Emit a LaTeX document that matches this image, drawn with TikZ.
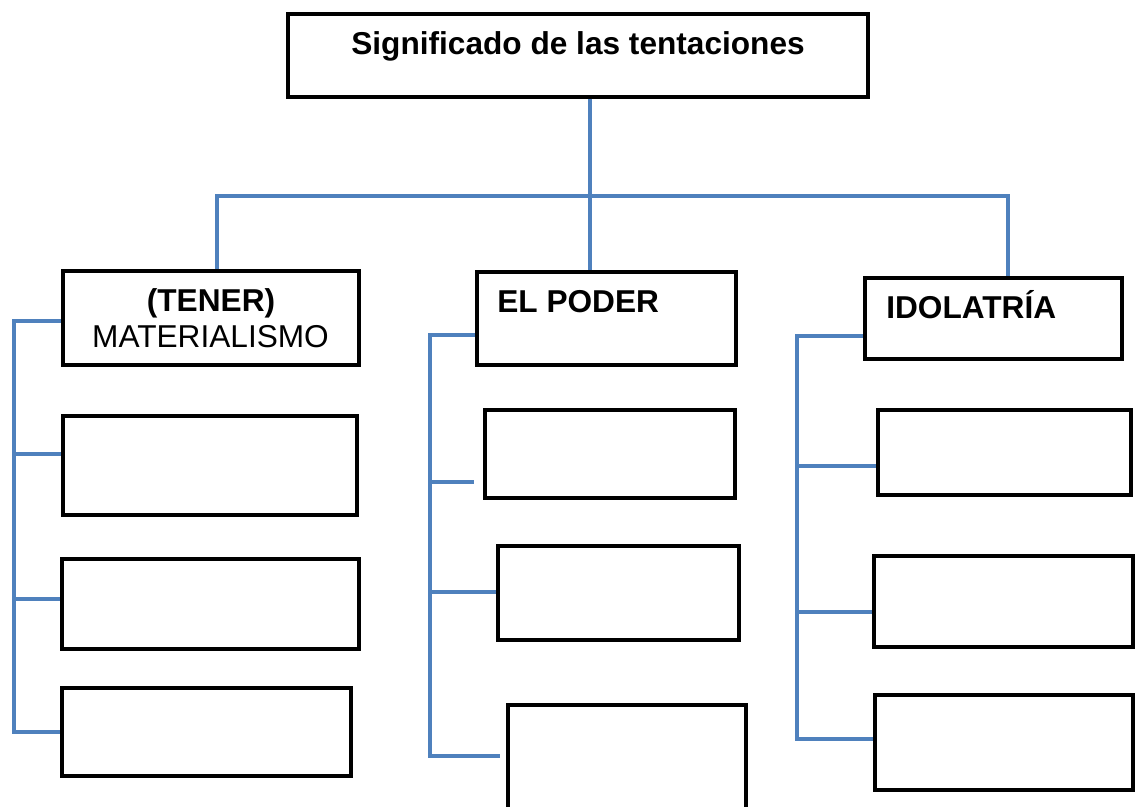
\documentclass[tikz,border=0pt]{standalone}
\usepackage{fontspec}
\setmainfont{Liberation Sans}
\usetikzlibrary{calc}
\definecolor{linkblue}{RGB}{79,129,189}

\begin{document}
\begin{tikzpicture}[x=0.02cm, y=-0.02cm,
    box/.style={draw, line width=0.08cm, inner sep=0pt},
    link/.style={draw=linkblue, line width=0.075cm},
    txt/.style={inner sep=0pt, font=\fontsize{18}{22}\selectfont},
    btxt/.style={inner sep=0pt, font=\fontsize{18}{22}\selectfont\bfseries}]
  \clip (0,0) rectangle (1136,807);

  % boxes
  \node[box, minimum width=11.6cm, minimum height=1.66cm] (top) at (578,55.5) {};
  \node[box, minimum width=5.92cm, minimum height=1.88cm] (hTener) at (211,318) {};
  \node[box, minimum width=5.18cm, minimum height=1.86cm] (hPoder) at (606.5,318.5) {};
  \node[box, minimum width=5.14cm, minimum height=1.62cm] (hIdol) at (993.5,318.5) {};
  \node[box, minimum width=5.88cm, minimum height=1.98cm] (t1) at (210,465.5) {};
  \node[box, minimum width=5.94cm, minimum height=1.80cm] (t2) at (210.5,604) {};
  \node[box, minimum width=5.78cm, minimum height=1.76cm] (t3) at (206.5,732) {};
  \node[box, minimum width=5.00cm, minimum height=1.76cm] (p1) at (610,454) {};
  \node[box, minimum width=4.82cm, minimum height=1.88cm] (p2) at (618.5,593) {};
  \node[box, minimum width=4.76cm, minimum height=2.20cm] (p3) at (627,760) {};
  \node[box, minimum width=5.06cm, minimum height=1.70cm] (i1) at (1004.5,452.5) {};
  \node[box, minimum width=5.18cm, minimum height=1.82cm] (i2) at (1003.5,601.5) {};
  \node[box, minimum width=5.16cm, minimum height=1.90cm] (i3) at (1004,742.5) {};

  % texts
  \node[btxt, anchor=base] (ttl) at (578,55) {Significado de las tentaciones};
  \node[btxt, anchor=base] (lTener) at (211,312) {(TENER)};
  \node[txt, anchor=base] (lMat) at (210.5,348) {MATERIALISMO};
  \node[btxt, anchor=base west] (lPoder) at (497,313) {EL PODER};
  \node[btxt, anchor=base west] (lIdol) at (886,319) {IDOLATRÍA};

  % tree
  \coordinate (hub) at (590,196);
  \coordinate (jl) at (217,196);
  \coordinate (jr) at (1008,196);
  \draw[link] (hub |- top.south) -- (hub |- hPoder.north);
  \draw[link] (jl |- hTener.north) -- (jl) -- (jr) -- (jr |- hIdol.north);

  % left column
  \coordinate (l0) at (14,321);
  \coordinate (l1) at (14,454);
  \coordinate (l2) at (14,599);
  \coordinate (l3) at (14,732);
  \draw[link] (l0 -| hTener.west) -- (l0) -- (l3) -- (l3 -| t3.west);
  \foreach \n/\b in {l1/t1, l2/t2}
    \draw[link] (\n) -- (\n -| \b.west);

  % middle column
  \coordinate (m0) at (430,335);
  \coordinate (m1) at (430,482);
  \coordinate (m2) at (430,592);
  \coordinate (m3) at (430,756);
  \draw[link] (m0 -| hPoder.west) -- (m0) -- (m3) -- ($(m3 -| p3.west)+(-6,0)$);
  \draw[link] (m1) -- ($(m1 -| p1.west)+(-9,0)$);
  \draw[link] (m2) -- (m2 -| p2.west);

  % right column
  \coordinate (r0) at (797,336);
  \coordinate (r1) at (797,466);
  \coordinate (r2) at (797,612);
  \coordinate (r3) at (797,739);
  \draw[link] (r0 -| hIdol.west) -- (r0) -- (r3) -- (r3 -| i3.west);
  \foreach \n/\b in {r1/i1, r2/i2}
    \draw[link] (\n) -- (\n -| \b.west);
\end{tikzpicture}
\end{document}
